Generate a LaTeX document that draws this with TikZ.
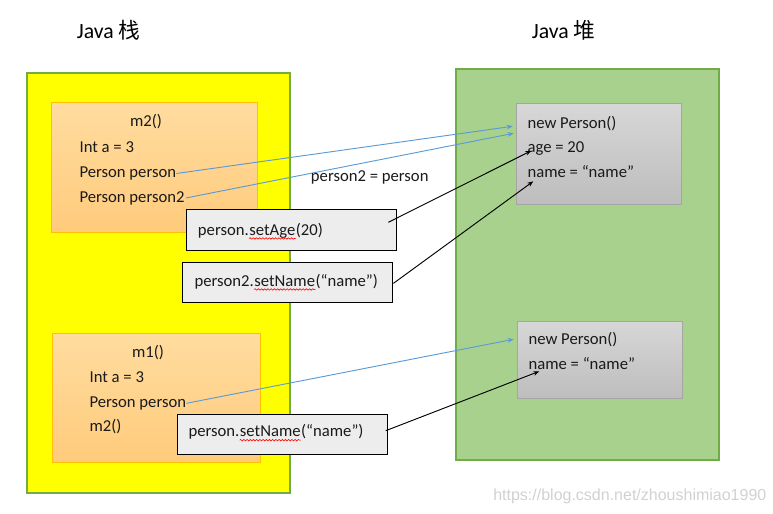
\documentclass[tikz,border=0pt]{standalone}
\usepackage{fontspec}
\setmainfont{Carlito}
\newfontfamily\cjk{Noto Sans CJK SC}
\newfontfamily\wmfont{Liberation Sans}
\usetikzlibrary{arrows.meta,calc,decorations.pathmorphing}
\definecolor{stackfill}{HTML}{FFFF00}
\definecolor{areaedge}{HTML}{70AD47}
\definecolor{heapfill}{HTML}{A9D18E}
\definecolor{frametop}{HTML}{FFDC9F}
\definecolor{framebot}{HTML}{FFCB7C}
\definecolor{frameedge}{HTML}{FFC000}
\definecolor{objtop}{HTML}{D7D7D7}
\definecolor{objbot}{HTML}{BDBDBD}
\definecolor{objedge}{HTML}{A5A5A5}
\definecolor{cmdfill}{HTML}{EDEDED}
\definecolor{refblue}{HTML}{5B9BD5}
\definecolor{ink}{HTML}{1A1A1A}

\begin{document}
\begin{tikzpicture}[x=0.75pt,y=-0.75pt,
  area/.style={draw=areaedge,line width=1.6pt,inner sep=0pt},
  frame/.style={draw=frameedge,line width=0.6pt,top color=frametop,bottom color=framebot,inner sep=0pt},
  obj/.style={draw=objedge,line width=0.8pt,top color=objtop,bottom color=objbot,inner sep=0pt},
  cmd/.style={draw=black,line width=0.8pt,fill=cmdfill,inner sep=0pt},
  txt/.style={anchor=base west,inner sep=0pt,font=\fontsize{12.5}{15}\selectfont,text=ink},
  ctxt/.style={anchor=base,inner sep=0pt,font=\fontsize{12.5}{15}\selectfont,text=ink},
  ttl/.style={anchor=base west,inner sep=0pt,font=\fontsize{16.3}{19}\selectfont},
  ref/.style={draw=refblue,line width=0.7pt,-{Stealth[length=4.5pt,width=3.5pt]}},
  call/.style={draw=black,line width=0.7pt,-{Stealth[length=4.5pt,width=3.5pt]}},
  spell/.style={draw=red,line width=0.45pt,decorate,decoration={snake,amplitude=0.55pt,segment length=2.4pt}}]
  \useasboundingbox (0,0) rectangle (773,513);
  % titles
  \node[ttl] (stacktitle) at (76.7,39) {Java {\cjk 栈}};
  \node[ttl] (heaptitle) at (531.7,39) {Java {\cjk 堆}};
  % stack and heap areas
  \node[area,fill=stackfill,minimum width=263*0.75pt,minimum height=420*0.75pt,anchor=north west] (stack) at (26,72) {};
  \node[area,fill=heapfill,minimum width=263*0.75pt,minimum height=391*0.75pt,anchor=north west] (heap) at (455,68) {};
  % frames on the stack
  \node[frame,minimum width=206.6*0.75pt,minimum height=130*0.75pt,anchor=north west] (m2frame) at (50.7,102.3) {};
  \node[ctxt] (m2name) at (146,127) {m2()};
  \node[txt] (m2a) at (79.3,152.5) {Int a = 3};
  \node[txt] (m2p) at (79.3,177.5) {Person person};
  \node[txt] (m2p2) at (79.3,202) {Person person2};
  \node[frame,minimum width=207.7*0.75pt,minimum height=128.4*0.75pt,anchor=north west] (m1frame) at (52.3,333.3) {};
  \node[ctxt] (m1name) at (148,357.7) {m1()};
  \node[txt] (m1a) at (89.3,382.7) {Int a = 3};
  \node[txt] (m1p) at (89.3,407.3) {Person person};
  \node[txt] (m1call) at (89.3,431.7) {m2()};
  % objects on the heap
  \node[obj,minimum width=165.6*0.75pt,minimum height=101*0.75pt,anchor=north west] (obj1) at (515.7,103.3) {};
  \node[txt] (obj1new) at (527.3,128.3) {new Person()};
  \node[txt] (age) at (527.3,152.7) {age = 20};
  \node[txt] (name1) at (527.3,177.3) {name = “name”};
  \node[obj,minimum width=165.6*0.75pt,minimum height=77.6*0.75pt,anchor=north west] (obj2) at (516.7,320.7) {};
  \node[txt] (obj2new) at (528.3,344.3) {new Person()};
  \node[txt] (name2) at (528.3,369.3) {name = “name”};
  % references from the stack
  \draw[ref] (m2p.east) -- ($(obj1.north west)!0.225!(obj1.south west)+(-3,0)$);
  \draw[ref] ([xshift=1pt]m2p2.east) -- ($(obj1.north west)!0.294!(obj1.south west)+(-2,0)$);
  \draw[ref] (m1p.east) -- ($(obj2.north west)!0.236!(obj2.south west)+(-3,0)$);
  \node[txt] (assign) at (310.7,181.7) {person2 = person};
  % method calls
  \node[cmd,minimum width=210.6*0.75pt,minimum height=40.7*0.75pt,anchor=north west] (setage) at (185.7,209.3) {};
  \node[txt] (agecall) at (197.7,235) {person.};
  \node[txt] (agemeth) at (agecall.base east) {setAge};
  \node[txt] (ageargs) at (agemeth.base east) {(20)};
  \node[cmd,minimum width=210.6*0.75pt,minimum height=40.3*0.75pt,anchor=north west] (setname2) at (181.7,261.7) {};
  \node[txt] (namecalltwo) at (194.3,286) {person2.};
  \node[txt] (namemethtwo) at (namecalltwo.base east) {setName};
  \node[txt] (nameargstwo) at (namemethtwo.base east) {(“name”)};
  \node[cmd,minimum width=210*0.75pt,minimum height=40.3*0.75pt,anchor=north west] (setname1) at (176.7,414) {};
  \node[txt] (namecallone) at (188.3,436.7) {person.};
  \node[txt] (namemethone) at (namecallone.base east) {setName};
  \node[txt] (nameargsone) at (namemethone.base east) {(“name”)};
  % spelling marks
  \foreach \m in {agemeth,namemethtwo,namemethone}
    \draw[spell] ([yshift=-2.6pt]\m.base west) -- ([yshift=-2.6pt]\m.base east);
  \draw[call] ([shift={(-9,13)}]setage.north east) -- ([shift={(4,-2)}]age.base west);
  \draw[call] ([shift={(0,1)}]setname2.east) -- ([shift={(6,4)}]name1.base west);
  \draw[call] ([shift={(-2,-4)}]setname1.east) -- ([shift={(11,2)}]name2.base west);
  % watermark
  \node[anchor=base west,inner sep=0pt,font=\wmfont\fontsize{12}{14}\selectfont,text=black!18] (mark) at (493,500) {https://blog.csdn.net/zhoushimiao1990};
\end{tikzpicture}
\end{document}
